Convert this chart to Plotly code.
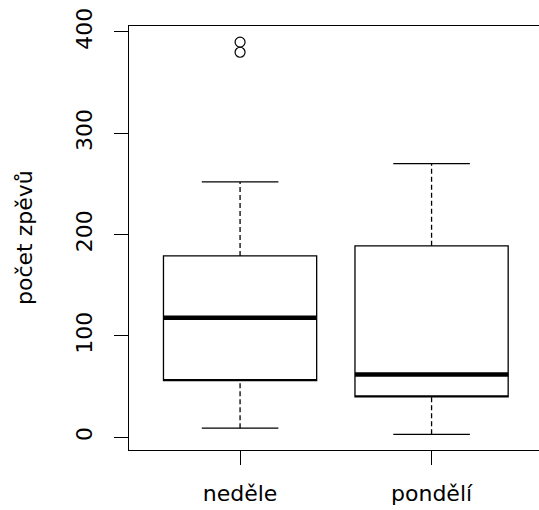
import plotly.graph_objects as go

# ---- data ----
categories = ["neděle", "pondělí"]
positions = [1, 2]
lower_whisker = [9, 3]
q1 = [56, 40]
median = [118, 62]
q3 = [179, 189]
upper_whisker = [252, 270]
outliers = {"neděle": [380, 390], "pondělí": []}
y_ticks = [0, 100, 200, 300, 400]
y_title = "počet zpěvů"

BOX_W = 0.8
CAP_W = 0.4
FONT = dict(family="DejaVu Sans", size=22, color="black")

fig = go.Figure()

for i, cat in enumerate(categories):
    x = positions[i]
    # box (no whiskers from the box trace itself)
    fig.add_trace(go.Box(
        x=[x], q1=[q1[i]], median=[q1[i]], q3=[q3[i]],
        lowerfence=[q1[i]], upperfence=[q3[i]],
        width=BOX_W, fillcolor="rgba(0,0,0,0)",
        line=dict(color="black", width=1.3), whiskerwidth=0,
        boxpoints=False, hoverinfo="skip", showlegend=False))
    # dashed whiskers
    for a, b in [(lower_whisker[i], q1[i]), (q3[i], upper_whisker[i])]:
        fig.add_trace(go.Scatter(
            x=[x, x], y=[a, b], mode="lines",
            line=dict(color="black", width=1.3, dash="5px,3px"),
            hoverinfo="skip", showlegend=False))
    # staples
    for v in [lower_whisker[i], upper_whisker[i]]:
        fig.add_trace(go.Scatter(
            x=[x - CAP_W / 2, x + CAP_W / 2], y=[v, v], mode="lines",
            line=dict(color="black", width=1.3),
            hoverinfo="skip", showlegend=False))
    # median
    fig.add_trace(go.Scatter(
        x=[x - BOX_W / 2, x + BOX_W / 2], y=[median[i], median[i]], mode="lines",
        line=dict(color="black", width=4.5),
        hoverinfo="skip", showlegend=False))
    # outliers
    if outliers[cat]:
        fig.add_trace(go.Scatter(
            x=[x] * len(outliers[cat]), y=outliers[cat], mode="markers",
            marker=dict(symbol="circle-open", size=10, color="black",
                        line=dict(width=1.2)),
            hoverinfo="skip", showlegend=False))

fig.update_layout(
    width=539, height=510,
    margin=dict(l=129, r=0, t=26, b=60, pad=0),
    paper_bgcolor="white", plot_bgcolor="white",
    font=FONT, showlegend=False,
    xaxis=dict(range=[0.42, 2.561], tickvals=positions, ticktext=categories,
               showline=True, linecolor="black", linewidth=1.3, mirror=True,
               ticks="outside", ticklen=14, tickwidth=1.3, tickcolor="black",
               ticklabelstandoff=9,
               showgrid=False, zeroline=False, fixedrange=True,
               tickfont=FONT),
    yaxis=dict(range=[-12.5, 405.9], tickvals=y_ticks,
               showline=True, linecolor="black", linewidth=1.3, mirror=False,
               ticks="outside", ticklen=14, tickwidth=1.3, tickcolor="black",
               ticklabelstandoff=13,
               tickangle=-90, showgrid=False, zeroline=False, fixedrange=True,
               tickfont=FONT),
    annotations=[dict(text=y_title, textangle=-90, xref="paper", yref="paper",
                      x=(24 - 129) / 410, y=0.5, xanchor="center", yanchor="middle",
                      showarrow=False, font=FONT)],
)

fig.write_html("out.html")
